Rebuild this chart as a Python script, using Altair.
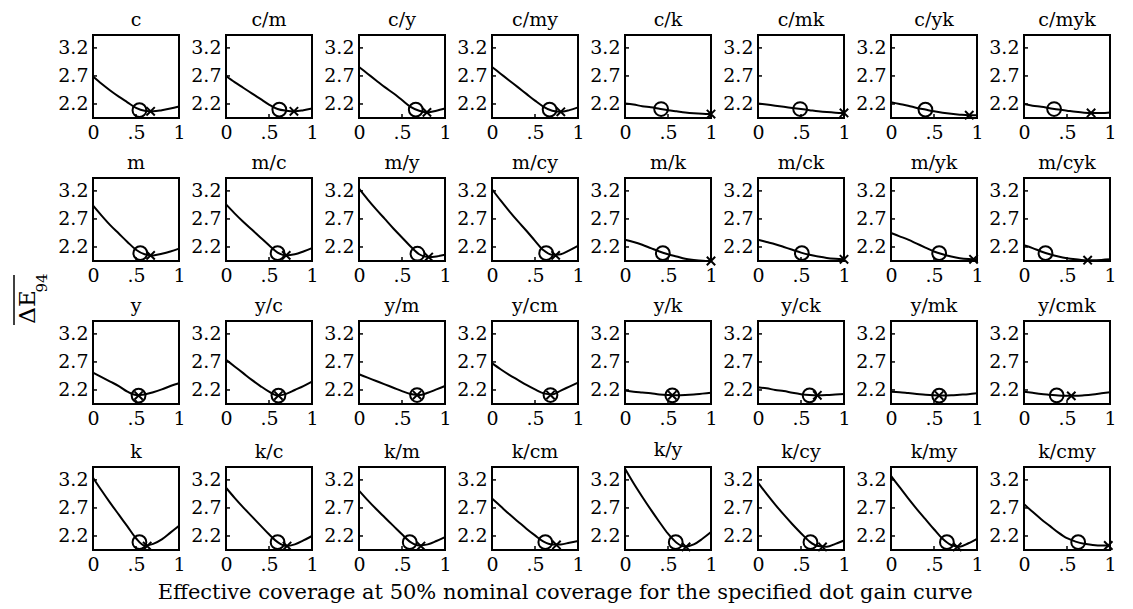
import altair as alt
import pandas as pd

PANELS = ["c", "c/m", "c/y", "c/my", "c/k", "c/mk", "c/yk", "c/myk",
          "m", "m/c", "m/y", "m/cy", "m/k", "m/ck", "m/yk", "m/cyk",
          "y", "y/c", "y/m", "y/cm", "y/k", "y/ck", "y/mk", "y/cmk",
          "k", "k/c", "k/m", "k/cm", "k/y", "k/cy", "k/my", "k/cmy"]

X_GRID = [0.0, 0.1, 0.2, 0.3, 0.4, 0.5, 0.6, 0.7, 0.8, 0.9, 1.0]

CURVES = [
    [2.69, 2.56, 2.44, 2.33, 2.23, 2.13, 2.08, 2.07, 2.09, 2.12, 2.155],
    [2.70, 2.59, 2.49, 2.39, 2.29, 2.19, 2.11, 2.08, 2.07, 2.09, 2.12],
    [2.86, 2.74, 2.62, 2.50, 2.39, 2.27, 2.15, 2.08, 2.05, 2.08, 2.12],
    [2.86, 2.74, 2.62, 2.50, 2.38, 2.26, 2.15, 2.08, 2.06, 2.09, 2.14],
    [2.21, 2.19, 2.16, 2.14, 2.115, 2.09, 2.07, 2.05, 2.035, 2.025, 2.02],
    [2.21, 2.19, 2.17, 2.15, 2.13, 2.11, 2.09, 2.07, 2.055, 2.045, 2.04],
    [2.23, 2.20, 2.17, 2.13, 2.10, 2.07, 2.045, 2.025, 2.01, 2.00, 2.00],
    [2.20, 2.17, 2.15, 2.125, 2.10, 2.08, 2.06, 2.045, 2.04, 2.04, 2.05],
    [2.94, 2.76, 2.59, 2.44, 2.29, 2.15, 2.07, 2.05, 2.08, 2.12, 2.17],
    [2.96, 2.80, 2.65, 2.51, 2.37, 2.23, 2.10, 2.05, 2.07, 2.12, 2.18],
    [3.24, 3.05, 2.87, 2.70, 2.53, 2.37, 2.21, 2.07, 2.02, 2.03, 2.06],
    [3.23, 3.03, 2.84, 2.66, 2.49, 2.31, 2.14, 2.06, 2.07, 2.14, 2.22],
    [2.33, 2.29, 2.24, 2.18, 2.12, 2.07, 2.03, 1.99, 1.97, 1.955, 1.95],
    [2.33, 2.29, 2.25, 2.20, 2.15, 2.10, 2.06, 2.03, 2.005, 1.99, 1.98],
    [2.45, 2.39, 2.33, 2.26, 2.19, 2.12, 2.07, 2.03, 2.00, 1.985, 1.98],
    [2.23, 2.18, 2.12, 2.07, 2.03, 2.00, 1.98, 1.965, 1.965, 1.97, 1.98],
    [2.51, 2.43, 2.35, 2.27, 2.17, 2.11, 2.12, 2.16, 2.21, 2.27, 2.32],
    [2.74, 2.62, 2.50, 2.38, 2.27, 2.17, 2.10, 2.13, 2.20, 2.27, 2.35],
    [2.48, 2.42, 2.36, 2.30, 2.24, 2.18, 2.13, 2.11, 2.15, 2.21, 2.27],
    [2.68, 2.57, 2.47, 2.38, 2.29, 2.21, 2.14, 2.12, 2.19, 2.26, 2.33],
    [2.19, 2.17, 2.155, 2.14, 2.12, 2.11, 2.105, 2.11, 2.12, 2.135, 2.15],
    [2.25, 2.23, 2.20, 2.18, 2.15, 2.125, 2.11, 2.105, 2.11, 2.12, 2.13],
    [2.17, 2.16, 2.145, 2.13, 2.115, 2.105, 2.10, 2.105, 2.115, 2.125, 2.14],
    [2.17, 2.15, 2.13, 2.115, 2.10, 2.095, 2.095, 2.105, 2.12, 2.14, 2.16],
    [3.24, 3.01, 2.79, 2.58, 2.37, 2.16, 2.03, 2.06, 2.14, 2.26, 2.38],
    [3.06, 2.88, 2.71, 2.55, 2.39, 2.23, 2.09, 2.02, 2.05, 2.12, 2.20],
    [3.01, 2.84, 2.68, 2.53, 2.38, 2.23, 2.09, 2.03, 2.05, 2.11, 2.18],
    [2.87, 2.73, 2.59, 2.46, 2.33, 2.21, 2.10, 2.05, 2.05, 2.08, 2.11],
    [3.40, 3.14, 2.90, 2.67, 2.45, 2.24, 2.08, 2.01, 2.05, 2.15, 2.27],
    [3.15, 2.95, 2.76, 2.58, 2.41, 2.25, 2.10, 2.02, 2.01, 2.06, 2.12],
    [3.27, 3.07, 2.87, 2.68, 2.50, 2.32, 2.15, 2.04, 2.01, 2.07, 2.15],
    [2.77, 2.63, 2.50, 2.38, 2.26, 2.16, 2.10, 2.06, 2.04, 2.03, 2.03],
]

CIRCLE_X = [0.54, 0.62, 0.66, 0.67, 0.42, 0.49, 0.40, 0.35,
            0.55, 0.60, 0.68, 0.63, 0.44, 0.51, 0.56, 0.25,
            0.53, 0.61, 0.675, 0.68, 0.55, 0.60, 0.56, 0.38,
            0.54, 0.60, 0.59, 0.62, 0.59, 0.61, 0.65, 0.63]
CIRCLE_Y = [2.09, 2.10, 2.10, 2.10, 2.11, 2.11, 2.10, 2.11,
            2.09, 2.09, 2.08, 2.09, 2.09, 2.09, 2.09, 2.09,
            2.10, 2.10, 2.11, 2.11, 2.105, 2.105, 2.10, 2.105,
            2.09, 2.09, 2.09, 2.09, 2.09, 2.09, 2.09, 2.09]
CROSS_X = [0.67, 0.79, 0.79, 0.80, 1.00, 1.00, 0.91, 0.78,
           0.67, 0.70, 0.81, 0.74, 1.00, 1.00, 0.96, 0.74,
           0.53, 0.61, 0.675, 0.68, 0.55, 0.69, 0.56, 0.55,
           0.63, 0.71, 0.72, 0.75, 0.71, 0.75, 0.77, 0.98]
CROSS_Y = [2.07, 2.07, 2.05, 2.06, 2.02, 2.04, 2.00, 2.04,
           2.05, 2.05, 2.02, 2.05, 1.95, 1.98, 1.98, 1.965,
           2.10, 2.10, 2.11, 2.11, 2.105, 2.105, 2.10, 2.095,
           2.02, 2.02, 2.02, 2.04, 2.005, 2.005, 2.005, 2.03]

Y_TICKS = [2.2, 2.7, 3.2]
X_TICKS = [0, 0.5, 1]
Y_DOMAIN = [1.95, 3.43]
X_LABEL = "Effective coverage at 50% nominal coverage for the specified dot gain curve"
Y_LABEL_MAIN = "\u0394E"
Y_LABEL_SUB = "94"

FONT = "DejaVu Serif"
W, H = 86, 83
NCOL = 8

rows = []
for i, p in enumerate(PANELS):
    for xv, yv in zip(X_GRID, CURVES[i]):
        rows.append({"panel": p, "kind": "curve", "x": xv, "y": yv})
    rows.append({"panel": p, "kind": "circle", "x": CIRCLE_X[i], "y": CIRCLE_Y[i]})
    rows.append({"panel": p, "kind": "cross", "x": CROSS_X[i], "y": CROSS_Y[i]})
    for t in Y_TICKS:
        rows.append({"panel": p, "kind": "ytick", "x": 0.0, "y": t})
    rows.append({"panel": p, "kind": "xtick", "x": 0.5, "y": Y_DOMAIN[0]})
df = pd.DataFrame(rows)

xenc = alt.X("x:Q", scale=alt.Scale(domain=[0, 1], nice=False, zero=False),
             axis=alt.Axis(values=X_TICKS, title=None,
                           labelExpr="datum.value == 0.5 ? '.5' : toString(datum.value)"))
yenc = alt.Y("y:Q", scale=alt.Scale(domain=Y_DOMAIN, nice=False, zero=False),
             axis=alt.Axis(values=Y_TICKS, format=".1f", title=None))


def make_panel(name):
    sub = df[df["panel"] == name]
    base = alt.Chart()
    line = base.mark_line(color="black", strokeWidth=2, interpolate="monotone").encode(
        x=xenc, y=yenc, order="x:Q").transform_filter(alt.datum.kind == "curve")
    circ = base.mark_point(shape="circle", filled=False, size=190, color="black",
                           strokeWidth=2, opacity=1).encode(
        x=xenc, y=yenc).transform_filter(alt.datum.kind == "circle")
    cross = base.mark_point(shape="M-1,-1L1,1M-1,1L1,-1", filled=False, size=70,
                            color="black", strokeWidth=2, opacity=1).encode(
        x=xenc, y=yenc).transform_filter(alt.datum.kind == "cross")
    ytk = base.mark_rule(color="black", strokeWidth=1.5).encode(
        y=yenc, x=alt.value(0), x2=alt.value(4)).transform_filter(alt.datum.kind == "ytick")
    xtk = base.mark_rule(color="black", strokeWidth=1.5).encode(
        x=xenc, y=alt.value(H), y2=alt.value(H - 4)).transform_filter(alt.datum.kind == "xtick")
    return alt.layer(line, circ, cross, ytk, xtk, data=sub).properties(
        width=W, height=H,
        title=alt.TitleParams(name, font=FONT, fontSize=19, fontWeight="normal",
                              color="black", anchor="middle", offset=5))


grid_rows = []
for r in range(len(PANELS) // NCOL):
    cells = [make_panel(PANELS[r * NCOL + c]) for c in range(NCOL)]
    grid_rows.append(alt.hconcat(*cells, spacing=47, bounds="flush"))

grid = alt.vconcat(*grid_rows, spacing=10).properties(
    title=alt.TitleParams(X_LABEL, orient="bottom", anchor="middle", font=FONT,
                          fontSize=21, fontWeight="normal", color="black",
                          offset=7, dx=-22)
)

lab_df = pd.DataFrame({"main": [Y_LABEL_MAIN], "sub": [Y_LABEL_SUB]})
lab_base = alt.Chart(lab_df)
lab_main = lab_base.mark_text(angle=270, font=FONT, fontSize=23, color="black",
                              baseline="middle", align="center").encode(
    text="main:N", x=alt.value(19), y=alt.value(272))
lab_sub = lab_base.mark_text(angle=270, font=FONT, fontSize=15, color="black",
                             baseline="middle", align="center").encode(
    text="sub:N", x=alt.value(33), y=alt.value(248))
lab_bar = lab_base.mark_rule(color="black", strokeWidth=1.5).encode(
    x=alt.value(5), y=alt.value(240), y2=alt.value(290))
ylab = alt.layer(lab_main, lab_sub, lab_bar).properties(
    width=46, height=480, view=alt.ViewBackground(stroke="transparent"))

chart = alt.hconcat(ylab, grid, spacing=0).properties(
    padding={"left": 0, "top": 2, "right": 0, "bottom": 0}
).configure_view(
    stroke="black", strokeWidth=2
).configure_axis(
    labelFont=FONT, labelFontSize=19, labelColor="black", domain=False,
    ticks=False, grid=False, labelPadding=5, labelFlush=False, labelOverlap=False
)

chart.save("out.html", embed_options={"renderer": "svg", "actions": False})
